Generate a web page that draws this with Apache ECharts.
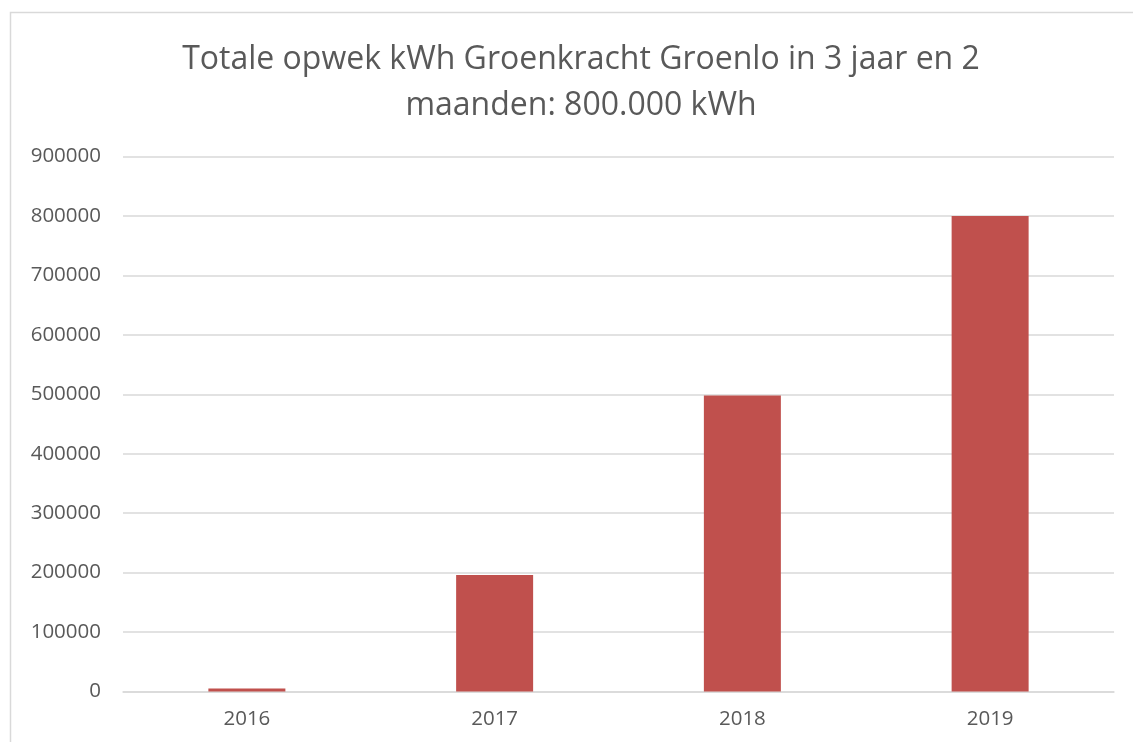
<!DOCTYPE html>
<html>
<head>
<meta charset="utf-8">
<script src="https://cdn.jsdelivr.net/npm/echarts@6/dist/echarts.min.js"></script>
<style>
html,body{margin:0;padding:0;background:#fff;}
#c{width:1133px;height:742px;}
</style>
</head>
<body>
<div id="c"></div>
<script>
const titleText = 'Totale opwek kWh Groenkracht Groenlo in 3 jaar en 2\nmaanden: 800.000 kWh';
const categories = ['2016', '2017', '2018', '2019'];
const values = [5000, 196000, 498000, 800000];
const yMin = 0, yMax = 900000, yStep = 100000;

const chart = echarts.init(document.getElementById('c'), null, {renderer: 'canvas'});
chart.setOption({
  backgroundColor: '#ffffff',
  animation: false,
  graphic: [{
    type: 'rect',
    shape: {x: 10.5, y: 12.5, width: 1140, height: 760},
    style: {fill: 'none', stroke: '#d9d9d9', lineWidth: 1.5},
    silent: true
  }],
  title: {
    text: titleText,
    left: 576,
    top: 32,
    textAlign: 'center',
    textStyle: {
      fontFamily: 'Open Sans',
      fontWeight: 'normal',
      fontSize: 32,
      lineHeight: 46,
      color: '#595959'
    }
  },
  grid: {left: 123, right: 19, top: 156.5, bottom: 50.5, containLabel: false},
  xAxis: {
    type: 'category',
    data: categories,
    axisLine: {lineStyle: {color: '#d9d9d9', width: 1.5}},
    axisTick: {show: false},
    axisLabel: {fontFamily: 'Open Sans', fontSize: 20.5, color: '#595959', margin: 17}
  },
  yAxis: {
    type: 'value',
    min: yMin,
    max: yMax,
    interval: yStep,
    axisLine: {show: false},
    axisTick: {show: false},
    splitLine: {lineStyle: {color: '#d9d9d9', width: 1.5}},
    axisLabel: {
      fontFamily: 'Open Sans', fontSize: 20.5, color: '#595959', margin: 22,
      formatter: function (v) { return String(v); }
    }
  },
  series: [{
    type: 'bar',
    data: values,
    barWidth: 77,
    itemStyle: {color: '#C0504D'}
  }]
});
</script>
</body>
</html>
